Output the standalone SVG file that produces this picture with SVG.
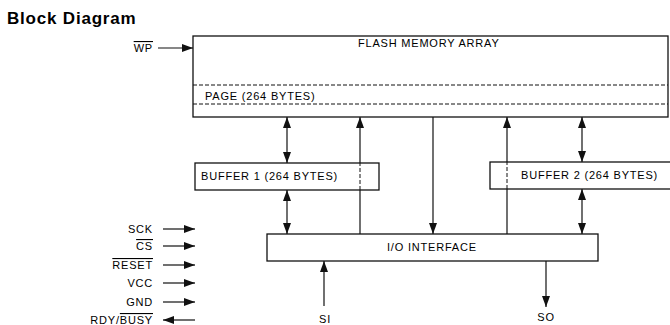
<svg xmlns="http://www.w3.org/2000/svg" width="670" height="325" viewBox="0 0 670 325">
<style>
text{font-family:"Liberation Sans",Arial,sans-serif;fill:#000;}
.lbl{font-size:11px;letter-spacing:0.8px;}
.title{font-size:17px;font-weight:bold;letter-spacing:0.8px;}
.box{fill:none;stroke:#111;stroke-width:1.3;}
.dash{fill:none;stroke:#111;stroke-width:1;stroke-dasharray:4 2;}
.ln{fill:none;stroke:#111;stroke-width:1.2;}
.ar{marker-end:url(#ah);}
.ar2{marker-start:url(#ah);marker-end:url(#ah);}
.ov{text-decoration:overline;}
</style>
<defs>
<marker id="ah" viewBox="0 0 11 8" refX="11" refY="4" markerWidth="11" markerHeight="8" markerUnits="userSpaceOnUse" orient="auto-start-reverse">
<path d="M0,0 L11,4 L0,8 z" fill="#111"/>
</marker>
</defs>
<text class="title" x="7" y="24">Block Diagram</text>

<g id="connectors">
<path class="ln ar" d="M158,48 H193"/>
<path class="ln ar2" d="M287,117 V163"/>
<path class="ln ar2" d="M287,190 V234"/>
<path class="ln ar" d="M360,163 V117"/>
<path class="ln" d="M360,234 V190"/>
<path class="dash" d="M360,190 V163"/>
<path class="ln ar" d="M433,117 V234"/>
<path class="ln ar" d="M507,162 V117"/>
<path class="ln" d="M507,234 V189"/>
<path class="dash" d="M507,189 V162"/>
<path class="ln ar2" d="M582,117 V162"/>
<path class="ln ar2" d="M582,189 V234"/>
<path class="ln ar" d="M324,306 V261"/>
<path class="ln ar" d="M546,261 V307"/>
<path class="ln ar" d="M163,229 H195"/>
<path class="ln ar" d="M163,246 H195"/>
<path class="ln ar" d="M163,265 H195"/>
<path class="ln ar" d="M163,283 H195"/>
<path class="ln ar" d="M163,302 H195"/>
<path class="ln ar" d="M195,320 H163"/>
</g>

<g id="flash">
<rect class="box" x="193" y="36" width="475" height="81"/>
<path class="dash" d="M193,85 H668 M193,104 H668"/>
<text class="lbl" x="358" y="47">FLASH MEMORY ARRAY</text>
<text class="lbl" x="205" y="100">PAGE (264 BYTES)</text>
</g>
<g id="buffer1">
<rect class="box" x="195" y="163" width="184" height="27"/>
<text class="lbl" x="201" y="180">BUFFER 1 (264 BYTES)</text>
</g>
<g id="buffer2">
<rect class="box" x="490" y="162" width="184" height="27"/>
<text class="lbl" x="521" y="179">BUFFER 2 (264 BYTES)</text>
</g>
<g id="io">
<rect class="box" x="267" y="234" width="331" height="27"/>
<text class="lbl" x="387" y="251">I/O INTERFACE</text>
</g>
<g id="pins">
<text class="lbl" x="153" y="52" text-anchor="end"><tspan class="ov">WP</tspan></text>
<text class="lbl" x="153" y="233" text-anchor="end">SCK</text>
<text class="lbl" x="153" y="250" text-anchor="end"><tspan class="ov">CS</tspan></text>
<text class="lbl" x="153" y="269" text-anchor="end"><tspan class="ov">RESET</tspan></text>
<text class="lbl" x="153" y="287" text-anchor="end">VCC</text>
<text class="lbl" x="153" y="306" text-anchor="end">GND</text>
<text class="lbl" x="153" y="324" text-anchor="end">RDY/<tspan class="ov">BUSY</tspan></text>
<text class="lbl" x="325" y="323" text-anchor="middle">SI</text>
<text class="lbl" x="546" y="321" text-anchor="middle">SO</text>
</g>
</svg>
